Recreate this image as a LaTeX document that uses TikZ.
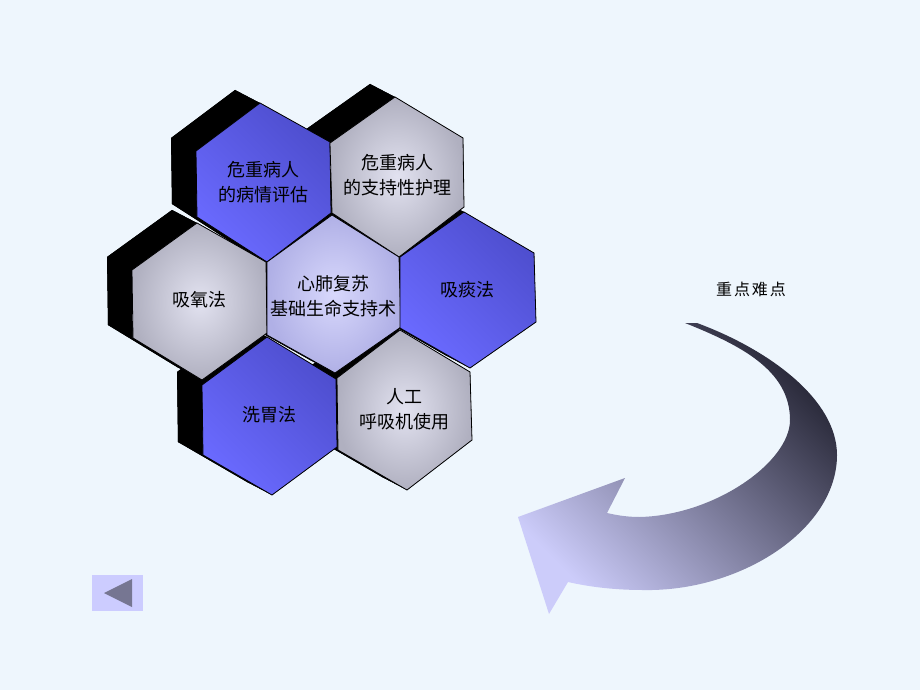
\documentclass[tikz,border=0pt]{standalone}
\usepackage{fontspec}
\newfontfamily\cjk{Noto Sans CJK SC}
\usetikzlibrary{calc}
\definecolor{bgc}{RGB}{238,246,253}
\definecolor{blueL}{RGB}{106,106,255}
\definecolor{blueD}{RGB}{78,78,206}
\definecolor{grayL}{RGB}{226,226,240}
\definecolor{grayD}{RGB}{176,176,192}
\definecolor{lavL}{RGB}{216,216,252}
\definecolor{lavD}{RGB}{176,176,230}
\definecolor{arrD}{RGB}{40,40,56}
\definecolor{arrL}{RGB}{204,204,250}
\definecolor{btnbg}{RGB}{204,204,255}
\definecolor{btntri}{RGB}{118,118,146}
\tikzset{
  shadowc/.style={fill=black},
  bluehex/.style={draw=black, line width=0.8pt, line join=round, top color=blueD, bottom color=blueL, shading angle=-45},
  grayhex/.style={draw=black, line width=0.8pt, line join=round, inner color=grayL, outer color=grayD},
  lavhex/.style={draw=black, line width=0.8pt, line join=round, inner color=lavL, outer color=lavD},
  hextext/.style={font=\cjk\fontsize{18}{25}\selectfont, align=center, text=black, inner sep=0pt},
}
% shadow of hex with vertex coordinates #1..#6 (offset up-left)
\newcommand\hexshade[6]{%
  \fill[shadowc] ($(#1)+(-25,-13)$) -- ($(#2)+(-25,-13)$) -- ($(#3)+(-25,-13)$) -- ($(#4)+(-25,-13)$) -- ($(#5)+(-25,-13)$) -- ($(#6)+(-25,-13)$) -- cycle;
  \foreach \p/\q in {#1/#2,#2/#3,#3/#4,#4/#5,#5/#6,#6/#1}{%
    \fill[shadowc] (\p) -- (\q) -- ($(\q)+(-25,-13)$) -- ($(\p)+(-25,-13)$) -- cycle;}%
}
\begin{document}
\begin{tikzpicture}[x=1pt,y=-1pt]
\fill[bgc] (0,0) rectangle (920,690);
\useasboundingbox (0,0) rectangle (920,690);
% hex vertices: T, UR, LR, B, LL, UL
\coordinate (a1) at (260,103); \coordinate (a2) at (330,142); \coordinate (a3) at (331,213);
\coordinate (a4) at (267,262); \coordinate (a5) at (197,217); \coordinate (a6) at (196,151);
\coordinate (b1) at (395,97); \coordinate (b2) at (463,138); \coordinate (b3) at (464,207);
\coordinate (b4) at (399,257); \coordinate (b5) at (332,213); \coordinate (b6) at (330,143);
\coordinate (c1) at (197,223); \coordinate (c2) at (266,262); \coordinate (c3) at (267,333);
\coordinate (c4) at (202,380); \coordinate (c5) at (133,338); \coordinate (c6) at (132,270);
\coordinate (d1) at (332,215); \coordinate (d2) at (399,257); \coordinate (d3) at (401,327);
\coordinate (d4) at (335,373); \coordinate (d5) at (267,335); \coordinate (d6) at (267,262);
\coordinate (e1) at (464,212); \coordinate (e2) at (534,253); \coordinate (e3) at (536,322);
\coordinate (e4) at (470,368); \coordinate (e5) at (400,328); \coordinate (e6) at (400,257);
\coordinate (f1) at (267,337); \coordinate (f2) at (336,379); \coordinate (f3) at (337,447);
\coordinate (f4) at (272,495); \coordinate (f5) at (203,455); \coordinate (f6) at (202,385);
\coordinate (g1) at (400,330); \coordinate (g2) at (470,372); \coordinate (g3) at (472,440);
\coordinate (g4) at (407,490); \coordinate (g5) at (338,450); \coordinate (g6) at (337,378);
% shadows
\hexshade{a1}{a2}{a3}{a4}{a5}{a6}
\hexshade{b1}{b2}{b3}{b4}{b5}{b6}
\hexshade{c1}{c2}{c3}{c4}{c5}{c6}
\hexshade{d1}{d2}{d3}{d4}{d5}{d6}
\hexshade{e1}{e2}{e3}{e4}{e5}{e6}
\hexshade{f1}{f2}{f3}{f4}{f5}{f6}
\hexshade{g1}{g2}{g3}{g4}{g5}{g6}
% faces
\path[bluehex] (a1) -- (a2) -- (a3) -- (a4) -- (a5) -- (a6) -- cycle;
\path[grayhex] (b1) -- (b2) -- (b3) -- (b4) -- (b5) -- (b6) -- cycle;
\path[grayhex] (c1) -- (c2) -- (c3) -- (c4) -- (c5) -- (c6) -- cycle;
\path[lavhex] (d1) -- (d2) -- (d3) -- (d4) -- (d5) -- (d6) -- cycle;
\path[bluehex] (e1) -- (e2) -- (e3) -- (e4) -- (e5) -- (e6) -- cycle;
\path[bluehex] (f1) -- (f2) -- (f3) -- (f4) -- (f5) -- (f6) -- cycle;
\path[grayhex] (g1) -- (g2) -- (g3) -- (g4) -- (g5) -- (g6) -- cycle;
% texts
\node[hextext] (t1) at (263,182) {危重病人\\的病情评估};
\node[hextext] (t2) at (397,175) {危重病人\\的支持性护理};
\node[hextext] (t3) at (199,300) {吸氧法};
\node[hextext] (t4) at (333,296) {心肺复苏\\基础生命支持术};
\node[hextext] (t5) at (467,290) {吸痰法};
\node[hextext] (t6) at (269,415) {洗胃法};
\node[hextext] (t7) at (404,409) {人工\\呼吸机使用};
% curved arrow
\path[top color=arrD, bottom color=arrL, shading angle=-45]
  (697,323) .. controls (770,350) and (837,400) .. (837,455)
  .. controls (837,530) and (740,592) .. (643,590)
  .. controls (615,590) and (590,587) .. (568,582)
  -- (549,614) -- (518,517) -- (625,478) -- (607,513)
  .. controls (620,516) and (630,517) .. (640,517)
  .. controls (715,515) and (790,462) .. (790,420)
  .. controls (790,370) and (740,345) .. (685,323) -- cycle;
\node[font=\cjk\fontsize{16}{18}\selectfont\addfontfeature{LetterSpace=12}, text=black] (key) at (751,289) {重点难点};
% back button
\node[fill=btnbg, minimum width=51pt, minimum height=36pt, inner sep=0pt] (btn) at (117.5,593) {};
\fill[btntri] (104,593) -- (132,579) -- (132,607) -- cycle;
\end{tikzpicture}
\end{document}
